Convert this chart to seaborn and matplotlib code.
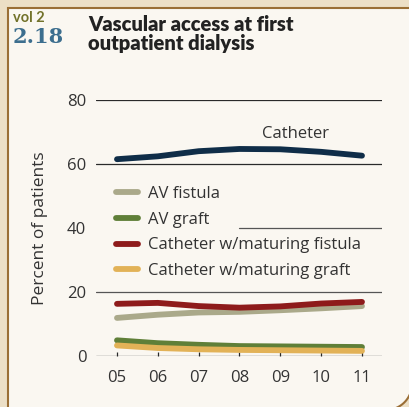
import numpy as np
import pandas as pd
import matplotlib
matplotlib.use("Agg")
import matplotlib.pyplot as plt
import seaborn as sns
from matplotlib.patches import Polygon

# data
years = [5, 6, 7, 8, 9, 10, 11]
year_labels = ["05", "06", "07", "08", "09", "10", "11"]
catheter = [61.5, 62.4, 64.0, 64.7, 64.6, 63.8, 62.6]
av_fistula = [11.9, 12.9, 13.6, 13.8, 14.3, 14.9, 15.6]
av_graft = [4.9, 4.0, 3.5, 3.1, 3.0, 2.9, 2.8]
cath_mat_fistula = [16.3, 16.6, 15.6, 15.1, 15.5, 16.4, 16.9]
cath_mat_graft = [3.3, 2.5, 2.1, 1.9, 1.8, 1.7, 1.6]

series = ["Catheter", "AV fistula", "AV graft",
          "Catheter w/maturing fistula", "Catheter w/maturing graft"]
colors = ["#0f2d48", "#aaa98a", "#5f7f38", "#8e1b1b", "#e2b257"]

df = pd.DataFrame({
    "year": years * 5,
    "pct": catheter + av_fistula + av_graft + cath_mat_fistula + cath_mat_graft,
    "series": [s for s in series for _ in years],
})

sns.set_style("white")
plt.rcParams["font.family"] = ["Open Sans", "DejaVu Sans"]

W, H = 409, 407
fig = plt.figure(figsize=(W / 100, H / 100), dpi=100)
fig.patch.set_facecolor("#ecdfc6")

# inner panel: sharp top-left, rounded bottom-right corner (pixel coords, y down)
cx, cy, r = 386, 384, 26
ang = np.linspace(0, np.pi / 2, 20)
arc = [(cx + r * np.cos(a), cy + r * np.sin(a)) for a in ang]
pts = [(8, H + 20), (8, 8), (W + 20, 8), (W + 20, cy)] + arc + [(cx, H + 20)]
pts = [(x / W, 1 - y / H) for x, y in pts]
panel = Polygon(pts, closed=True, transform=fig.transFigure,
                facecolor="#faf7f1", edgecolor="#9a6e35", linewidth=1.5,
                zorder=-5)
fig.patches.append(panel)

ax = fig.add_axes([96 / W, 1 - 356 / H, (382 - 96) / W, (356 - 100) / H])
ax.set_facecolor("none")

sns.lineplot(data=df, x="year", y="pct", hue="series", palette=colors,
             hue_order=series, ax=ax, linewidth=4.2, legend=True,
             solid_capstyle="round", clip_on=False, zorder=3)

# gridlines
for yv in [0, 20, 60, 80]:
    ax.axhline(yv, color="#2a2a2a" if yv != 20 else "#555555", lw=0.9, zorder=1)
ax.axhline(40, xmin=0.5, color="#555555", lw=0.9, zorder=1)

ax.set_xlim(4.486, 11.49)
ax.set_ylim(0, 80)
ax.set_xticks(years)
ax.set_xticklabels(year_labels)
ax.set_yticks([0, 20, 40, 60, 80])
ax.tick_params(axis="x", direction="in", length=3, width=0.9, color="#2a2a2a",
               labelsize=12, labelcolor="#333333", pad=10, bottom=True)
ax.tick_params(axis="y", length=0, labelsize=12, labelcolor="#333333", pad=7)
for s in ax.spines.values():
    s.set_visible(False)
ax.set_xlabel("")
ax.set_ylabel("Percent of patients", fontsize=12.5, color="#333333", labelpad=14)

ax.text(9.38, 69.4, "Catheter", fontsize=12, color="#333333",
        ha="center", va="center")

handles, labels = ax.get_legend_handles_labels()
leg = ax.legend(handles[1:], labels[1:], loc="upper left",
                bbox_to_anchor=(0.048, 0.69), frameon=False, fontsize=12,
                handlelength=1.3, handletextpad=0.6, labelspacing=0.58,
                borderaxespad=0)
for t in leg.get_texts():
    t.set_color("#333333")
for h in leg.get_lines():
    h.set_linewidth(4.2)
    h.set_solid_capstyle("round")

# header
fig.text(13 / W, 1 - 22 / H, "vol 2", fontsize=10.5, fontweight="bold",
         color="#72722a", family="Lato")
fig.text(13 / W, 1 - 43 / H, "2.18", fontsize=15, fontweight="bold",
         color="#3c6e8e", family="DejaVu Serif")
fig.text(88 / W, 1 - 50 / H, "Vascular access at first\noutpatient dialysis",
         fontsize=14.5, fontweight="heavy", color="#222222", linespacing=0.98,
         family="Lato")

plt.savefig("out.png", dpi=100, facecolor=fig.get_facecolor())
plt.close()
